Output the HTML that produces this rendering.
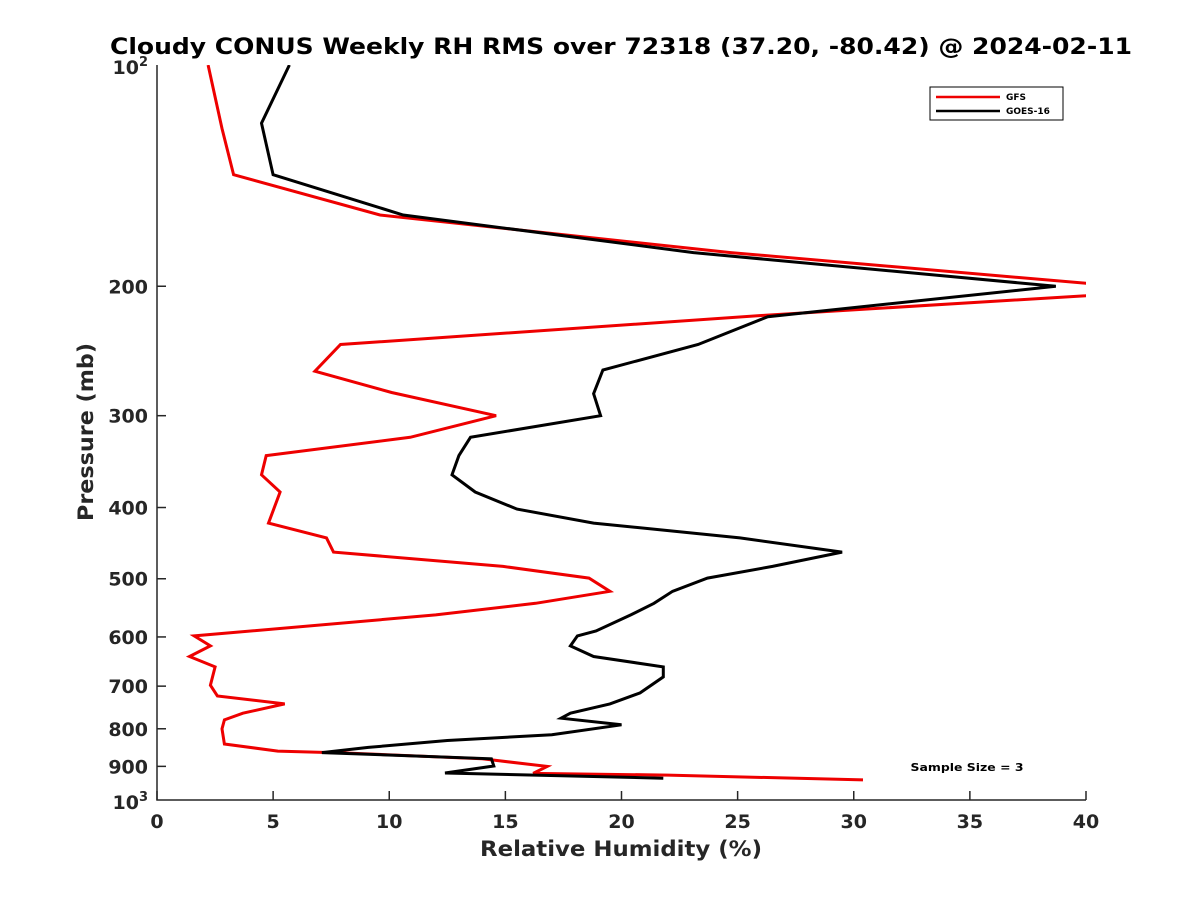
<!DOCTYPE html>
<html><head><meta charset="utf-8"><style>
body{margin:0;background:#fff}
svg{display:block;font-family:"DejaVu Sans","Liberation Sans",sans-serif}
</style></head><body>
<svg id="chart" width="1200" height="900">
<rect width="1200" height="900" fill="#fff"/>
<text x="621" y="54" text-anchor="middle" font-size="22" font-weight="bold" textLength="1022" lengthAdjust="spacingAndGlyphs">Cloudy CONUS Weekly RH RMS over 72318 (37.20, -80.42) @ 2024-02-11</text>
<defs><clipPath id="clip"><rect x="157" y="65" width="929" height="735"/></clipPath></defs>
<g id="axes"></g>
<g id="series" clip-path="url(#clip)"></g>
<g>
<rect x="930" y="87" width="133" height="33" fill="#fff" stroke="#000" stroke-width="1"/>
<line x1="936" y1="97" x2="1000" y2="97" stroke="#e00" stroke-width="2.5"/>
<text x="1006" y="100" font-size="9" font-weight="bold">GFS</text>
<line x1="936" y1="111" x2="1000" y2="111" stroke="#000" stroke-width="2.5"/>
<text x="1006" y="114" font-size="9" font-weight="bold">GOES-16</text>
</g>
<text x="967" y="771" text-anchor="middle" font-size="11" font-weight="bold" textLength="113" lengthAdjust="spacingAndGlyphs">Sample Size = 3</text>
<text x="621" y="856" text-anchor="middle" font-size="21" font-weight="bold" fill="#262626" textLength="282" lengthAdjust="spacingAndGlyphs">Relative Humidity (%)</text>
<text transform="translate(93,432) rotate(-90)" text-anchor="middle" font-size="21" font-weight="bold" fill="#262626" textLength="178" lengthAdjust="spacingAndGlyphs">Pressure (mb)</text>
</svg>
<script>
const xTicks=[0,5,10,15,20,25,30,35,40];
const yTicks=[200,300,400,500,600,700,800,900];
const gfsRH=[2.2,2.8,3.3,9.6,24.7,41.5,40,26.2,7.9,6.8,10.1,14.6,10.9,4.7,4.5,5.3,4.8,7.3,7.6,14.9,18.6,19.5,16.3,12.0,1.6,2.3,1.4,2.5,2.3,2.6,5.5,3.7,2.9,2.8,2.9,5.2,8.1,14.0,16.8,16.2,22,30.4];
const gfsP=[100,122,141,160,180,200,206,219,240,261,279,300,321,340,361,381,420,440,460,481,499,520,540,560,598,617,638,659,698,722,740,762,778,800,839,858,863,879,900,920,925,939];
const goesRH=[5.7,4.5,5.0,10.6,23.1,38.7,26.3,23.3,19.2,18.8,19.1,13.5,13.0,12.7,13.7,15.5,18.8,25.1,29.5,26.5,23.7,22.2,21.4,20.4,18.9,18.1,17.8,18.8,21.8,21.8,20.8,19.5,17.8,17.4,20.0,17.0,12.5,9.1,7.1,14.4,14.5,12.4,21.8];
const goesP=[100,120,141,160,180,200,220,240,260,280,300,321,340,361,381,402,420,440,460,481,499,520,540,560,589,598,617,638,659,680,715,740,762,774,790,815,830,848,862,879,899,919,934];
const X=v=>157+v*(929/40);
const Y=p=>65+Math.log10(p/100)*735;
const ns="http://www.w3.org/2000/svg";
const axes=document.getElementById('axes'),series=document.getElementById('series');
function mk(tag,attrs,parent){const e=document.createElementNS(ns,tag);for(const k in attrs)e.setAttribute(k,attrs[k]);parent.appendChild(e);return e;}
const axis=mk('path',{d:'M157,65 V800 H1086',fill:'none',stroke:'#262626','stroke-width':1.5},axes);


xTicks.forEach(v=>{
 const l=mk('line',{x1:X(v),x2:X(v),y1:800,y2:791,stroke:'#262626','stroke-width':1.5},axes);
 
 
 const t=mk('text',{x:X(v),y:828,'text-anchor':'middle','font-size':19,'font-weight':'bold',fill:'#262626'},axes);
 t.textContent=v;
 
 
});
yTicks.forEach(p=>{
 const l=mk('line',{x1:157,x2:166,y1:Y(p),y2:Y(p),stroke:'#262626','stroke-width':1.5},axes);
 
 
 const t=mk('text',{x:148,y:Y(p)+7,'text-anchor':'end','font-size':19,'font-weight':'bold',fill:'#262626'},axes);
 t.textContent=p;
 
 
});
[[100,65],[1000,800]].forEach(([p,y])=>{
 const t=mk('text',{x:148,y:y+9,'text-anchor':'end','font-size':19,'font-weight':'bold',fill:'#262626'},axes);
 t.innerHTML='10<tspan dy="-8" font-size="13">'+(p===100?2:3)+'</tspan>';
 
 
});
function line(rh,p,color,name){
 const d=rh.map((v,i)=>(i?'L':'M')+X(v).toFixed(1)+','+Y(p[i]).toFixed(1)).join(' ');
 const e=mk('path',{d:d,fill:'none',stroke:color,'stroke-width':3,'stroke-linejoin':'miter'},series);
 
 
}
line(gfsRH,gfsP,'#e00','gfs-line');
line(goesRH,goesP,'#000','goes16-line');
</script>
</body></html>
